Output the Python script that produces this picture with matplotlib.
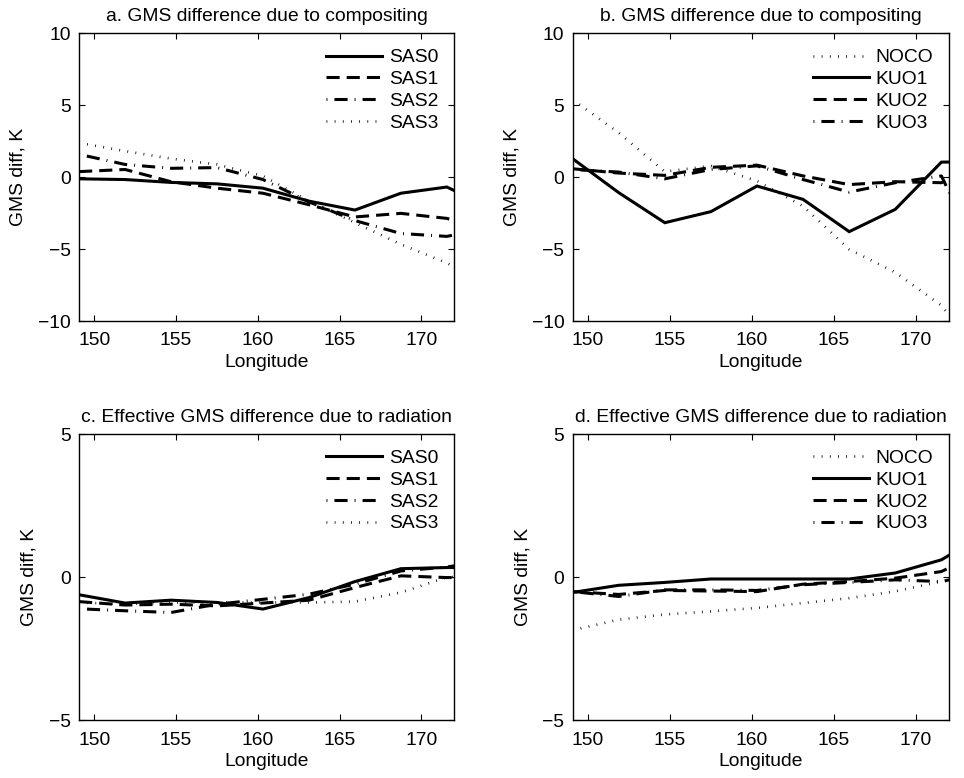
import matplotlib
matplotlib.use("Agg")
import matplotlib.pyplot as plt

plt.rcParams['font.family'] = ['Liberation Sans', 'DejaVu Sans']
plt.rcParams['font.size'] = 13.9

# longitude grid (2.8125 deg spacing), last point lies beyond the axis edge
lon = [149.0625, 151.875, 154.6875, 157.5, 160.3125, 163.125, 165.9375, 168.75, 171.5625, 174.375]

# a. GMS difference due to compositing (SAS runs)
sas0_a = [-0.1, -0.15, -0.35, -0.45, -0.75, -1.65, -2.27, -1.1, -0.67, -2.2]
sas1_a = [0.4, 0.55, -0.3, -0.75, -1.1, -1.9, -2.75, -2.5, -2.85, -3.8]
sas2_a = [1.6, 0.9, 0.63, 0.68, -0.15, -1.7, -3.0, -3.9, -4.1, -3.45]
sas3_a = [2.4, 1.83, 1.3, 0.9, 0.1, -1.65, -3.15, -4.65, -5.95, -7.55]

# b. GMS difference due to compositing (KUO runs)
noco_b = [5.4, 3.1, 0.4, 0.8, -0.25, -2.0, -5.0, -6.6, -8.9, -13.0]
kuo1_b = [1.3, -1.06, -3.15, -2.38, -0.6, -1.53, -3.77, -2.22, 1.06, 1.1]
kuo2_b = [0.6, 0.3, 0.14, 0.7, 0.85, 0.1, -0.5, -0.3, -0.37, 1.0]
kuo3_b = [0.55, 0.37, -0.1, 0.55, 0.8, -0.15, -1.02, -0.37, 0.1, -6.6]

# c. effective GMS difference due to radiation (SAS runs)
sas0_c = [-0.61, -0.9, -0.8, -0.88, -1.11, -0.71, -0.15, 0.3, 0.34, 0.34]
sas1_c = [-0.85, -0.97, -0.94, -1.0, -0.9, -0.8, -0.36, 0.05, -0.01, -0.01]
sas2_c = [-1.1, -1.17, -1.23, -0.94, -0.77, -0.59, -0.24, 0.22, 0.36, 0.6]
sas3_c = [-0.88, -0.94, -0.88, -0.88, -0.88, -0.88, -0.85, -0.53, 0.0, 0.1]

# d. effective GMS difference due to radiation (KUO runs)
noco_d = [-1.85, -1.48, -1.3, -1.19, -1.07, -0.9, -0.73, -0.49, -0.15, 0.1]
kuo1_d = [-0.53, -0.28, -0.18, -0.06, -0.06, -0.06, -0.06, 0.15, 0.61, 1.56]
kuo2_d = [-0.5, -0.6, -0.46, -0.48, -0.5, -0.24, -0.15, -0.03, 0.2, 1.0]
kuo3_d = [-0.5, -0.67, -0.44, -0.44, -0.46, -0.26, -0.18, -0.09, -0.15, 0.2]

titles = ["a. GMS difference due to compositing",
          "b. GMS difference due to compositing",
          "c. Effective GMS difference due to radiation",
          "d. Effective GMS difference due to radiation"]
sas_names = ["SAS0", "SAS1", "SAS2", "SAS3"]
kuo_names = ["NOCO", "KUO1", "KUO2", "KUO3"]

LW = 2.2
solid = '-'
dashed = (0, (4.3, 2.3))
dashdot = (0, (0.3, 2.3, 4.3, 2.3))
dotted = (0, (0.3, 2.8))
sas_styles = [solid, dashed, dashdot, dotted]
kuo_styles = [dotted, solid, dashed, dashdot]

fig = plt.figure(figsize=(9.64, 7.78), dpi=100)
boxes = [[0.082, 0.587, 0.389, 0.370],
         [0.594, 0.587, 0.390, 0.370],
         [0.082, 0.074, 0.389, 0.368],
         [0.594, 0.074, 0.390, 0.368]]
panels = [([sas0_a, sas1_a, sas2_a, sas3_a], sas_names, sas_styles, 10),
          ([noco_b, kuo1_b, kuo2_b, kuo3_b], kuo_names, kuo_styles, 10),
          ([sas0_c, sas1_c, sas2_c, sas3_c], sas_names, sas_styles, 5),
          ([noco_d, kuo1_d, kuo2_d, kuo3_d], kuo_names, kuo_styles, 5)]

for box, title, (series, names, styles, ylim) in zip(boxes, titles, panels):
    ax = fig.add_axes(box)
    for vals, name, ls in zip(series, names, styles):
        lw = 1.9 if ls is dotted else LW
        ax.plot(lon, vals, color='k', lw=lw, ls=ls, label=name,
                dash_capstyle='butt', solid_joinstyle='miter')
    ax.set_xlim(149.0625, 172.0)
    ax.set_ylim(-ylim, ylim)
    ax.set_xticks([150, 155, 160, 165, 170])
    ax.set_yticks([-10, -5, 0, 5, 10] if ylim == 10 else [-5, 0, 5])
    ax.set_yticklabels([f"{t:g}".replace('-', '\u2212') for t in ax.get_yticks()])
    ax.tick_params(direction='in', top=True, right=True, length=4, width=0.8)
    ax.tick_params(axis='x', pad=8)
    ax.tick_params(axis='y', pad=6)
    for sp in ax.spines.values():
        sp.set_linewidth(1.0)
    ax.set_title(title, fontsize=13.9, pad=9)
    ax.set_xlabel("Longitude", labelpad=3)
    ax.set_ylabel("GMS diff, K", labelpad=8)
    ax.legend(loc='upper right', frameon=False, handlelength=2.9,
              handletextpad=0.35, labelspacing=0.22, borderaxespad=0.4)

fig.savefig("out.png", dpi=100)
